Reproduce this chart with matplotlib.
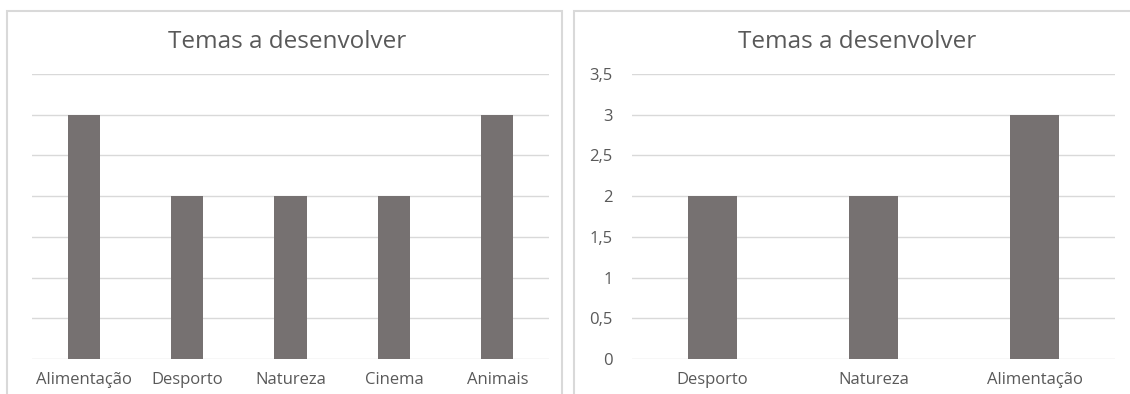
import matplotlib
matplotlib.use("Agg")
import matplotlib.pyplot as plt
from matplotlib.patches import Rectangle
from matplotlib.ticker import FuncFormatter

temas_1 = ["Alimentação", "Desporto", "Natureza", "Cinema", "Animais"]
votos_1 = [3, 2, 2, 2, 3]
temas_2 = ["Desporto", "Natureza", "Alimentação"]
votos_2 = [2, 2, 3]
y_ticks = [0, 0.5, 1, 1.5, 2, 2.5, 3, 3.5]
titulo = "Temas a desenvolver"

plt.rcParams['font.family'] = ['Open Sans', 'DejaVu Sans']

W, H = 1130, 394
fig = plt.figure(figsize=(W / 100, H / 100), dpi=100)

bar_col = '#767171'
grid_col = '#d9d9d9'
txt_col = '#595959'


def px_axes(x0, x1, y0, y1):
    # pixel box (top-left origin) -> figure axes
    return fig.add_axes([x0 / W, 1 - y1 / H, (x1 - x0) / W, (y1 - y0) / H])


# chart frames
fig.patches.append(Rectangle((7 / W, -0.1), (562 - 7) / W, 1.1 - 11 / H,
                             transform=fig.transFigure, fill=False,
                             edgecolor=grid_col, linewidth=1.5))
fig.patches.append(Rectangle((574 / W, -0.1), (1200 - 574) / W, 1.1 - 11 / H,
                             transform=fig.transFigure, fill=False,
                             edgecolor=grid_col, linewidth=1.5))

fmt = FuncFormatter(lambda v, p: f'{v:g}'.replace('.', ','))


def draw(ax, cats, vals, show_y):
    x = range(len(cats))
    ax.bar(x, vals, width=0.31, color=bar_col, zorder=3)
    ax.set_xlim(-0.5, len(cats) - 0.5)
    ax.set_ylim(0, 3.5)
    ax.set_yticks(y_ticks)
    ax.yaxis.set_major_formatter(fmt)
    ax.grid(axis='y', color=grid_col, linewidth=1, zorder=0)
    ax.set_xticks(list(x))
    ax.set_xticklabels(cats)
    for s in ax.spines.values():
        s.set_visible(False)
    ax.tick_params(axis='x', length=0, pad=9, labelsize=12, labelcolor=txt_col)
    ax.tick_params(axis='y', length=0, pad=14, labelsize=12, labelcolor=txt_col,
                   labelleft=show_y)
    ax.set_facecolor('none')


ax1 = px_axes(32, 549, 74, 359)
draw(ax1, temas_1, votos_1, False)
ax2 = px_axes(632, 1115, 74, 359)
draw(ax2, temas_2, votos_2, True)

fig.text(287 / W, 1 - 42 / H, titulo, ha='center', va='center',
         fontsize=17.5, color=txt_col)
fig.text(857 / W, 1 - 42 / H, titulo, ha='center', va='center',
         fontsize=17.5, color=txt_col)

fig.savefig("out.png", dpi=100)
